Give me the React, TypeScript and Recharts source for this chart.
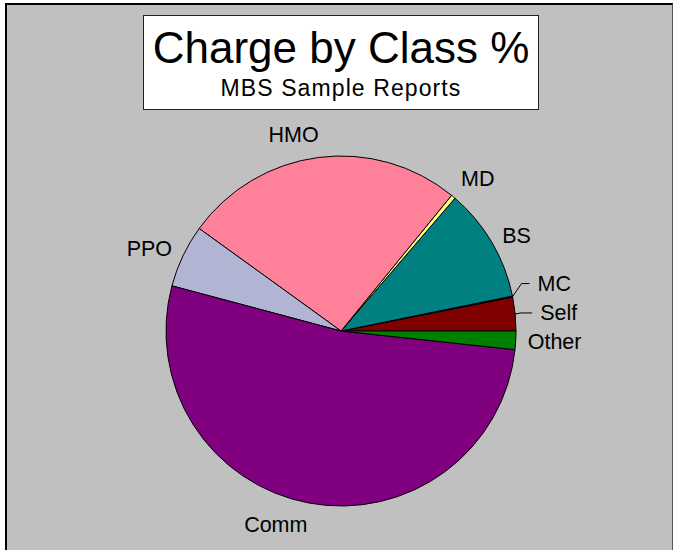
import React from "react";
import { PieChart, Pie, Cell } from "recharts";

// slices in drawing order, counter-clockwise from 3 o'clock
const classes = ["Self", "MC", "BS", "MD", "HMO", "PPO", "Comm", "Other"];
const shares = [3.1, 0.1, 10.5, 0.4, 25.9, 5.8, 52.4, 1.7];
const colors = [
  "#800000",
  "#000080",
  "#008080",
  "#FFFF80",
  "#FF8099",
  "#B2B4D4",
  "#800080",
  "#008000",
];

const title = "Charge by Class %";
const subtitle = "MBS Sample Reports";

const data = classes.map((name, i) => ({ name, value: shares[i] }));

const FONT = '"Liberation Sans", Arial, sans-serif';
const LABEL_SIZE = 21.5;

// small hand nudges where Excel placed the label off the mid angle
const nudge: Record<string, { dx?: number; dy?: number }> = {
  HMO: { dx: -23 },
  Comm: { dx: -31 },
  BS: { dy: 5 },
  PPO: { dy: 3 },
};

// labels drawn with a leader line
const leader: Record<string, { rise: number; run: number; tail: number }> = {
  MC: { rise: 13, run: 9, tail: 8 },
  Self: { rise: 1, run: 6, tail: 11 },
};

const RAD = Math.PI / 180;

function renderLabel(props: any) {
  const { cx, cy, midAngle, outerRadius, name } = props;
  const cos = Math.cos(-midAngle * RAD);
  const sin = Math.sin(-midAngle * RAD);

  if (leader[name]) {
    const l = leader[name];
    const x0 = cx + outerRadius * cos;
    const y0 = cy + outerRadius * sin;
    const x1 = x0 + l.run;
    const y1 = y0 - l.rise;
    const x2 = x1 + l.tail;
    return (
      <g key={name}>
        <polyline
          points={`${x0},${y0} ${x1},${y1} ${x2},${y1}`}
          fill="none"
          stroke="#000"
          strokeWidth={1}
        />
        <text
          x={x2 + 8}
          y={y1}
          fontFamily={FONT}
          fontSize={LABEL_SIZE}
          fill="#000"
          textAnchor="start"
          dominantBaseline="central"
        >
          {name}
        </text>
      </g>
    );
  }

  const r = outerRadius + 12;
  const px = cx + r * cos;
  const py = cy + r * sin;
  const anchor = cos > 0.3 ? "start" : cos < -0.3 ? "end" : "middle";
  const n = nudge[name] || {};
  const x = px + (n.dx || 0);
  const y = py + (sin * LABEL_SIZE) / 2 + (n.dy || 0);

  return (
    <text
      key={name}
      x={x}
      y={y}
      fontFamily={FONT}
      fontSize={LABEL_SIZE}
      fill="#000"
      textAnchor={anchor}
      dominantBaseline="central"
    >
      {name}
    </text>
  );
}

export default function App() {
  return (
    <div
      style={{
        position: "absolute",
        left: 0,
        top: 0,
        width: 674,
        height: 550,
        background: "#ffffff",
        overflow: "hidden",
        fontFamily: FONT,
      }}
    >
      <div
        style={{
          position: "absolute",
          left: 5,
          top: 3,
          width: 665,
          height: 570,
          background: "#C0C0C0",
          borderLeft: "2px solid #000",
          borderTop: "2px solid #000",
          borderRight: "1px solid #555",
        }}
      />
      <div style={{ position: "absolute", left: 0, top: 0 }}>
        <PieChart
          width={674}
          height={550}
          margin={{ top: 0, right: 0, bottom: 0, left: 0 }}
        >
          <Pie
            data={data}
            dataKey="value"
            nameKey="name"
            cx={341}
            cy={331}
            outerRadius={175}
            startAngle={0}
            endAngle={360}
            stroke="#000"
            strokeWidth={1}
            label={renderLabel}
            labelLine={false}
            isAnimationActive={false}
          >
            {data.map((d, i) => (
              <Cell key={d.name} fill={colors[i]} />
            ))}
          </Pie>
        </PieChart>
      </div>
      <svg
        width={674}
        height={550}
        style={{ position: "absolute", left: 0, top: 0, pointerEvents: "none" }}
      >
        <rect
          x={143.5}
          y={15.5}
          width={395}
          height={94}
          fill="#ffffff"
          stroke="#222"
          strokeWidth={1}
        />
        <text
          x={341}
          y={63}
          textAnchor="middle"
          fontFamily={FONT}
          fontSize={44}
          fill="#000"
        >
          {title}
        </text>
        <text
          x={341}
          y={96}
          textAnchor="middle"
          fontFamily={FONT}
          fontSize={23}
          letterSpacing={1.1}
          fill="#000"
        >
          {subtitle}
        </text>
      </svg>
    </div>
  );
}
